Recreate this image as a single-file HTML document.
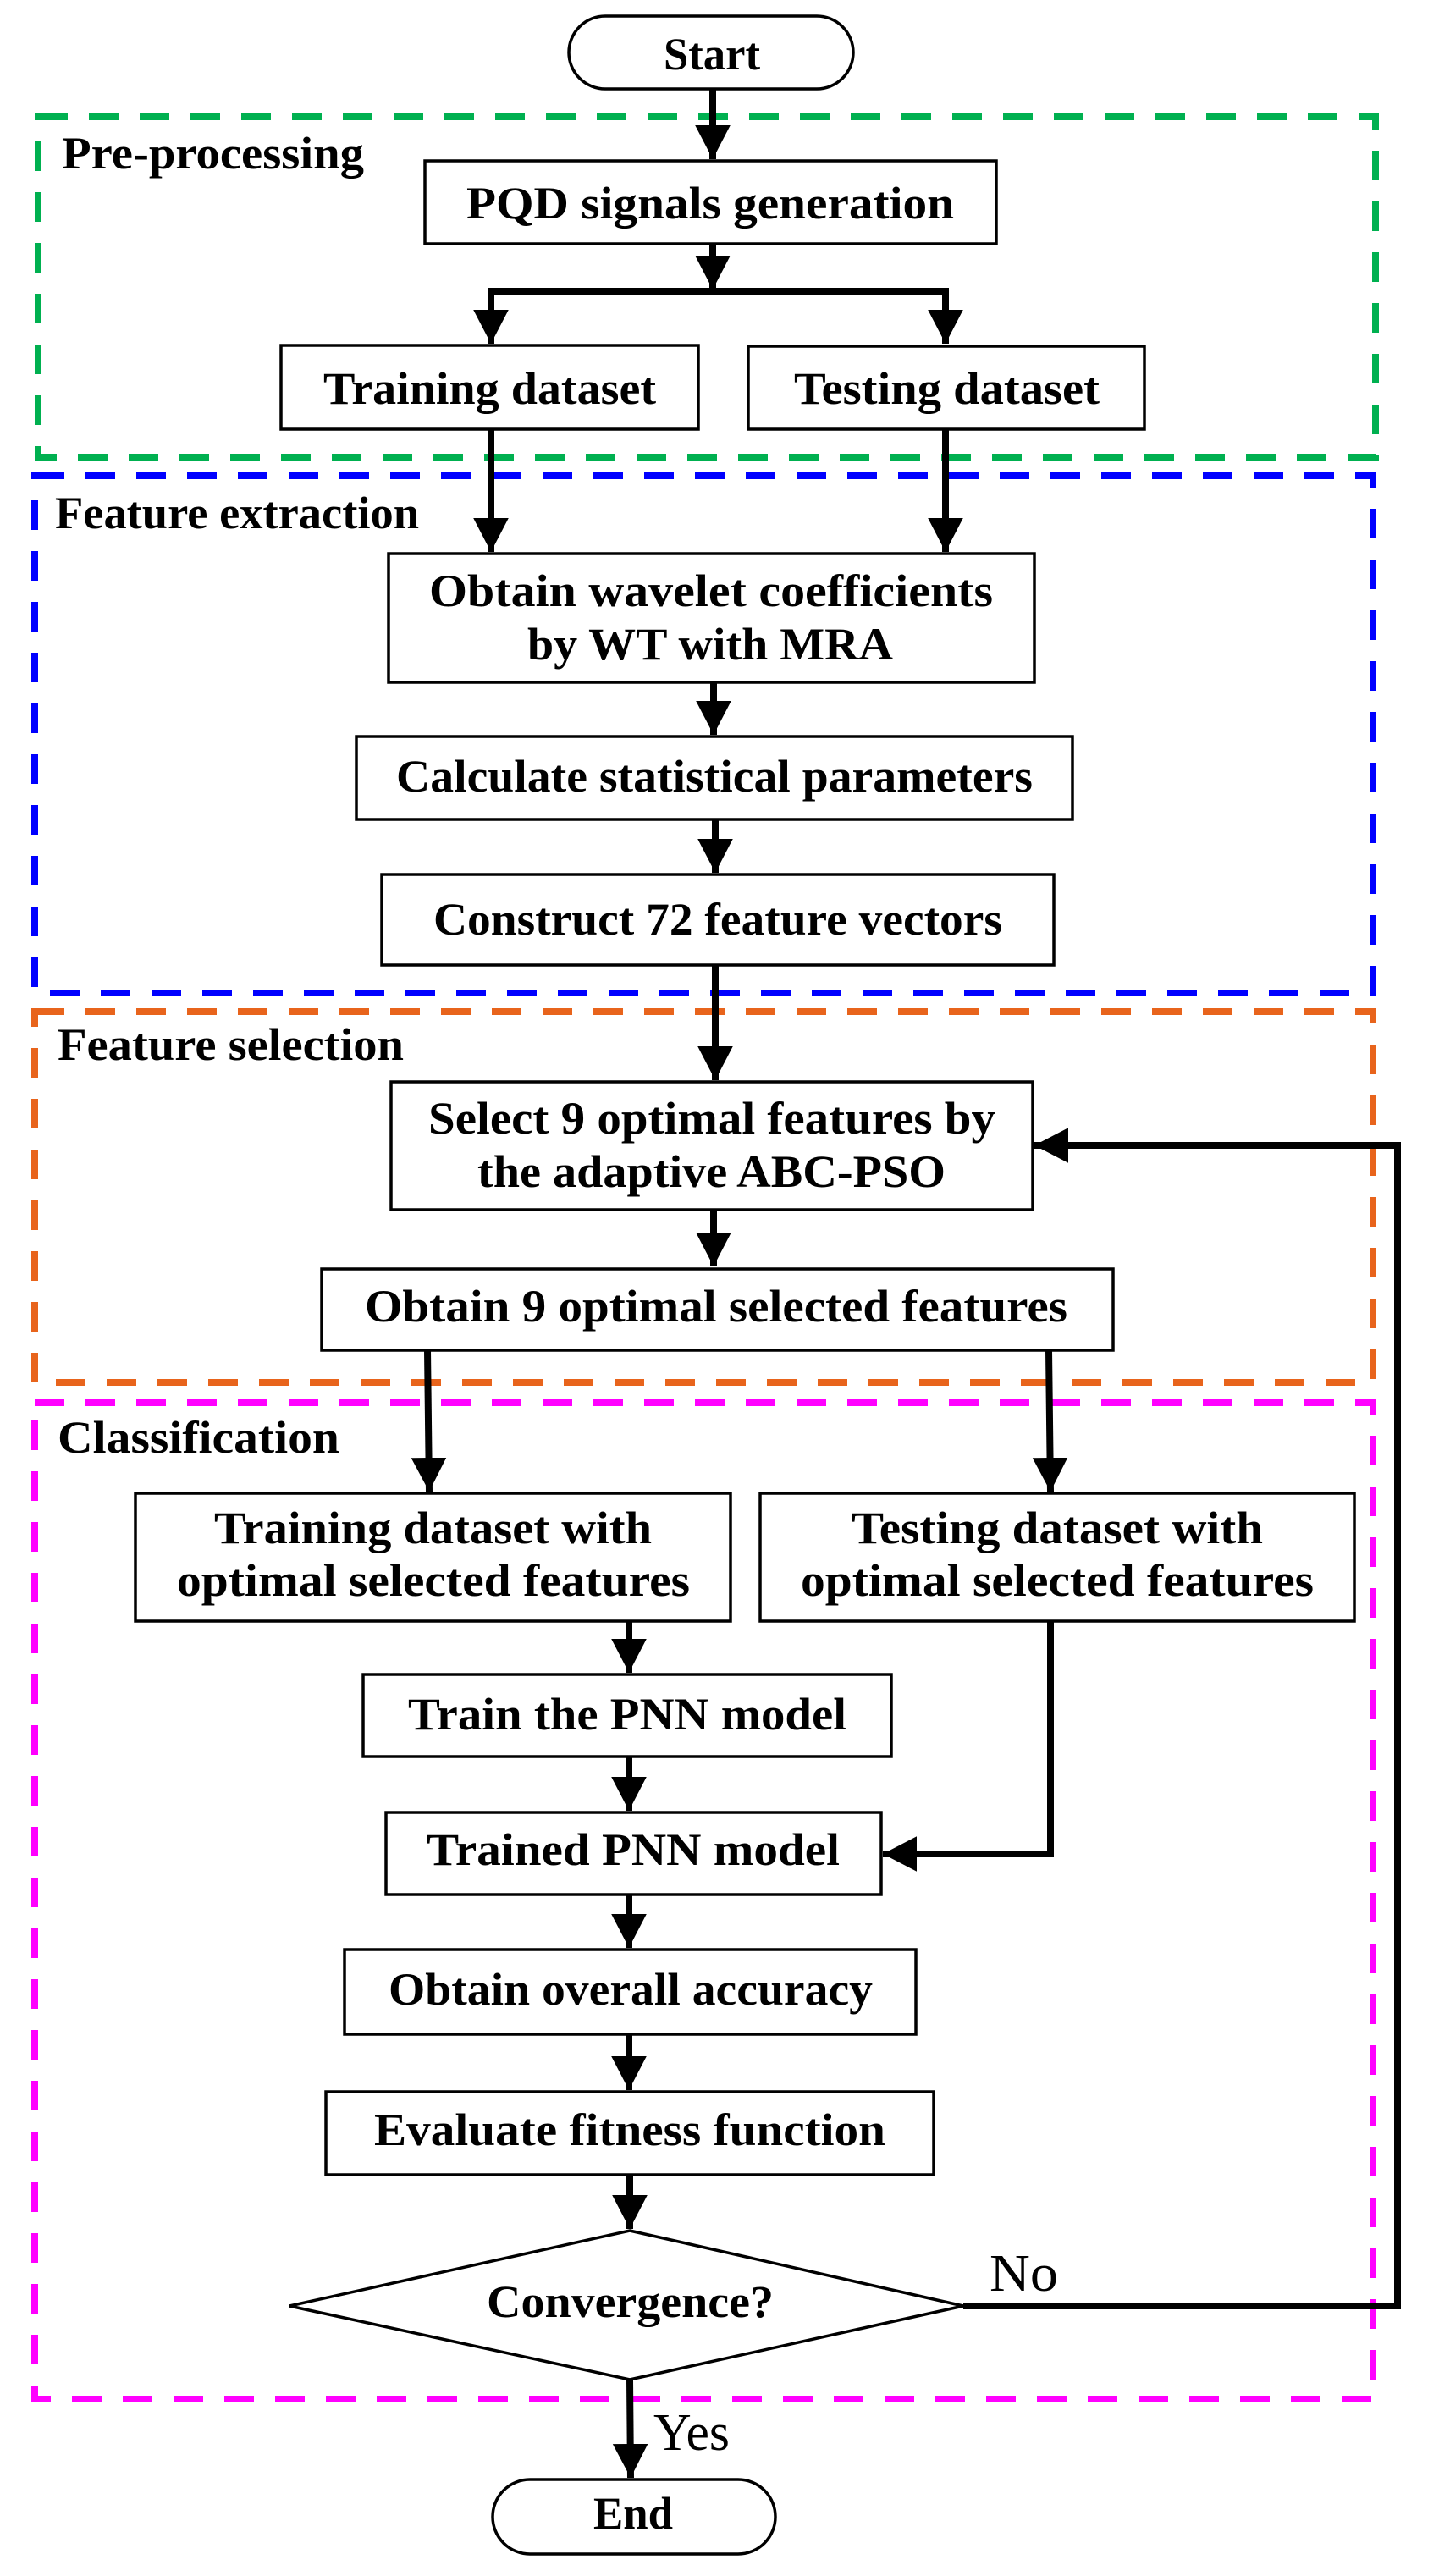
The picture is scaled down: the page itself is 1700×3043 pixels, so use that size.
<!DOCTYPE html>
<html><head><meta charset="utf-8"><style>
html,body{margin:0;padding:0;background:#fff;}
svg{display:block;}
.b{font-family:"Liberation Serif",serif;font-weight:bold;font-size:54px;fill:#000;}
.n{font-family:"Liberation Serif",serif;font-size:62px;fill:#000;}
.box{fill:#fff;stroke:#000;stroke-width:3.5;}
.ln{stroke:#000;stroke-width:8;fill:none;}
.d{fill:none;stroke-width:8;stroke-dasharray:35 25;}
</style></head><body>
<svg width="1700" height="3043" viewBox="0 0 1700 3043" xmlns="http://www.w3.org/2000/svg">
<defs>
<marker id="a" markerWidth="6" markerHeight="6" refX="5" refY="3" orient="auto" markerUnits="strokeWidth">
<path d="M0,0.4 L5,3 L0,5.6 Z" fill="#000"/></marker>
</defs>
<!-- dashed groups -->
<rect class="d" x="45" y="138" width="1580" height="402" stroke="#00b050"/>
<rect class="d" x="41" y="562" width="1581" height="611" stroke="#0000ff"/>
<rect class="d" x="41" y="1195" width="1581" height="438" stroke="#e8641c"/>
<rect class="d" x="41" y="1657" width="1581" height="1177" stroke="#ff00ff"/>

<text class="b" x="73" y="199" textLength="357" lengthAdjust="spacingAndGlyphs">Pre-processing</text>
<text class="b" x="65" y="624" textLength="430" lengthAdjust="spacingAndGlyphs">Feature extraction</text>
<text class="b" x="68" y="1252" textLength="409" lengthAdjust="spacingAndGlyphs">Feature selection</text>
<text class="b" x="68" y="1716" textLength="333" lengthAdjust="spacingAndGlyphs">Classification</text>

<!-- connectors -->
<line class="ln" x1="842" y1="105" x2="842" y2="188" marker-end="url(#a)"/>
<line class="ln" x1="842" y1="288" x2="842" y2="342" marker-end="url(#a)"/>
<polyline class="ln" points="580,404 580,344 1117,344 1117,404"/>
<line class="ln" x1="580" y1="350" x2="580" y2="406" marker-end="url(#a)"/>
<line class="ln" x1="1117" y1="350" x2="1117" y2="406" marker-end="url(#a)"/>
<line class="ln" x1="580" y1="507" x2="580" y2="652" marker-end="url(#a)"/>
<line class="ln" x1="1117" y1="507" x2="1117" y2="652" marker-end="url(#a)"/>
<line class="ln" x1="843" y1="806" x2="843" y2="868" marker-end="url(#a)"/>
<line class="ln" x1="845" y1="968" x2="845" y2="1031" marker-end="url(#a)"/>
<line class="ln" x1="845" y1="1140" x2="845" y2="1276" marker-end="url(#a)"/>
<line class="ln" x1="843" y1="1429" x2="843" y2="1496" marker-end="url(#a)"/>
<line class="ln" x1="505" y1="1595" x2="507" y2="1762" marker-end="url(#a)"/>
<line class="ln" x1="1239" y1="1595" x2="1241" y2="1762" marker-end="url(#a)"/>
<line class="ln" x1="743" y1="1915" x2="743" y2="1976" marker-end="url(#a)"/>
<line class="ln" x1="743" y1="2075" x2="743" y2="2139" marker-end="url(#a)"/>
<polyline class="ln" points="1241,1915 1241,2190 1043,2190" marker-end="url(#a)"/>
<line class="ln" x1="743" y1="2238" x2="743" y2="2301" marker-end="url(#a)"/>
<line class="ln" x1="743" y1="2403" x2="743" y2="2469" marker-end="url(#a)"/>
<line class="ln" x1="744" y1="2569" x2="744" y2="2633" marker-end="url(#a)"/>
<polyline class="ln" points="1138,2724 1651,2724 1651,1353 1222,1353" marker-end="url(#a)"/>
<line class="ln" x1="744" y1="2811" x2="745" y2="2927" marker-end="url(#a)"/>

<!-- nodes -->
<rect class="box" x="672" y="19" width="336" height="86" rx="43"/>
<text class="b" x="841" y="82" text-anchor="middle" textLength="114" lengthAdjust="spacingAndGlyphs">Start</text>

<rect class="box" x="502" y="190" width="675" height="98"/>
<text class="b" x="551" y="258" textLength="576" lengthAdjust="spacingAndGlyphs">PQD signals generation</text>

<rect class="box" x="332" y="408" width="493" height="99"/>
<text class="b" x="382" y="477" textLength="393" lengthAdjust="spacingAndGlyphs">Training dataset</text>
<rect class="box" x="884" y="409" width="468" height="98"/>
<text class="b" x="938" y="477" textLength="361" lengthAdjust="spacingAndGlyphs">Testing dataset</text>

<rect class="box" x="459" y="654" width="763" height="152"/>
<text class="b" x="507" y="716" textLength="666" lengthAdjust="spacingAndGlyphs">Obtain wavelet coefficients</text>
<text class="b" x="623" y="779" textLength="432" lengthAdjust="spacingAndGlyphs">by WT with MRA</text>

<rect class="box" x="421" y="870" width="846" height="98"/>
<text class="b" x="468" y="935" textLength="752" lengthAdjust="spacingAndGlyphs">Calculate statistical parameters</text>

<rect class="box" x="451" y="1033" width="794" height="107"/>
<text class="b" x="512" y="1104" textLength="672" lengthAdjust="spacingAndGlyphs">Construct 72 feature vectors</text>

<rect class="box" x="462" y="1278" width="758" height="151"/>
<text class="b" x="506" y="1339" textLength="670" lengthAdjust="spacingAndGlyphs">Select 9 optimal features by</text>
<text class="b" x="564" y="1402" textLength="553" lengthAdjust="spacingAndGlyphs">the adaptive ABC-PSO</text>

<rect class="box" x="380" y="1499" width="935" height="96"/>
<text class="b" x="431" y="1561" textLength="830" lengthAdjust="spacingAndGlyphs">Obtain 9 optimal selected features</text>

<rect class="box" x="160" y="1764" width="703" height="151"/>
<text class="b" x="253" y="1823" textLength="517" lengthAdjust="spacingAndGlyphs">Training dataset with</text>
<text class="b" x="209" y="1885" textLength="606" lengthAdjust="spacingAndGlyphs">optimal selected features</text>
<rect class="box" x="898" y="1764" width="702" height="151"/>
<text class="b" x="1006" y="1823" textLength="486" lengthAdjust="spacingAndGlyphs">Testing dataset with</text>
<text class="b" x="946" y="1885" textLength="606" lengthAdjust="spacingAndGlyphs">optimal selected features</text>

<rect class="box" x="429" y="1978" width="624" height="97"/>
<text class="b" x="482" y="2043" textLength="518" lengthAdjust="spacingAndGlyphs">Train the PNN model</text>

<rect class="box" x="456" y="2141" width="585" height="97"/>
<text class="b" x="504" y="2203" textLength="488" lengthAdjust="spacingAndGlyphs">Trained PNN model</text>

<rect class="box" x="407" y="2303" width="675" height="100"/>
<text class="b" x="459" y="2368" textLength="572" lengthAdjust="spacingAndGlyphs">Obtain overall accuracy</text>

<rect class="box" x="385" y="2471" width="718" height="98"/>
<text class="b" x="442" y="2534" textLength="604" lengthAdjust="spacingAndGlyphs">Evaluate fitness function</text>

<polygon class="box" points="744,2635 1138,2724 744,2811 342,2724"/>
<text class="b" x="575" y="2737" textLength="339" lengthAdjust="spacingAndGlyphs">Convergence?</text>

<text class="n" x="1169" y="2706" textLength="81" lengthAdjust="spacingAndGlyphs">No</text>
<text class="n" x="772" y="2894" textLength="90" lengthAdjust="spacingAndGlyphs">Yes</text>

<rect class="box" x="582" y="2929" width="334" height="88" rx="44"/>
<text class="b" x="748" y="2987" text-anchor="middle" textLength="94" lengthAdjust="spacingAndGlyphs">End</text>
</svg>
</body></html>
